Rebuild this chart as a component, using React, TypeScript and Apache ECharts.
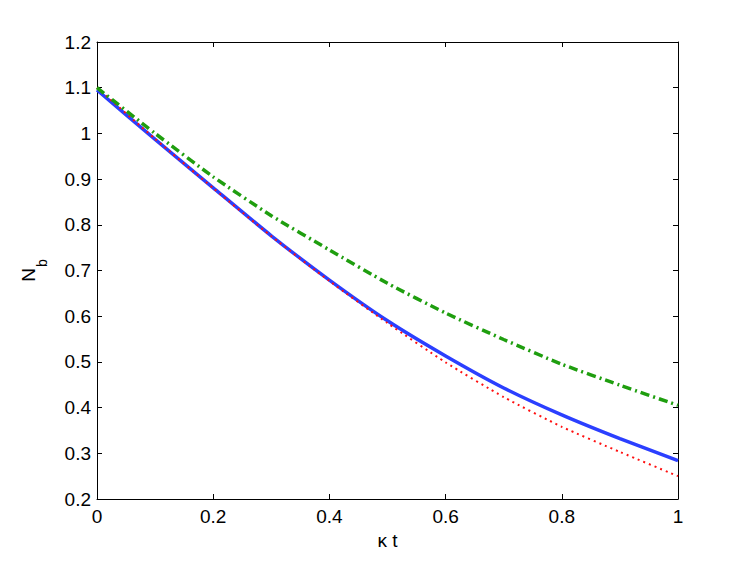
import React, { useEffect, useRef } from "react";
import * as echarts from "echarts";

const xValues = [0, 0.1, 0.2, 0.3, 0.4, 0.5, 0.6, 0.7, 0.8, 0.9, 1.0];
const blueSolid = [1.095, 0.987, 0.881, 0.776, 0.679, 0.590, 0.513, 0.443, 0.384, 0.332, 0.284];
const redDotted = [1.1, 0.988, 0.880, 0.775, 0.677, 0.585, 0.499, 0.423, 0.358, 0.303, 0.25];
const greenDashDot = [1.1, 1.0, 0.905, 0.82, 0.745, 0.672, 0.607, 0.549, 0.495, 0.449, 0.405];
const xLabel = "κ t";
const yLabelMain = "N";
const yLabelSub = "b";

const FONT = "Liberation Sans, Arial, Helvetica, sans-serif";

function pairs(ys: number[]) {
  return xValues.map((x, i) => [x, ys[i]]);
}

export default function App() {
  const ref = useRef<HTMLDivElement>(null);
  useEffect(() => {
    document.body.style.margin = "0";
    if (!ref.current) return;
    const chart = echarts.init(ref.current, undefined, { renderer: "svg" });
    const fmt = (v: number) => String(+v.toFixed(1));
    const axisCommon = {
      axisLine: { show: true, onZero: false, lineStyle: { color: "#000", width: 1 } },
      axisTick: { show: true, inside: true, length: 5, lineStyle: { color: "#000" } },
      splitLine: { show: false },
    };
    chart.setOption({
      animation: false,
      backgroundColor: "#fff",
      grid: { left: 97, top: 42, right: 69, bottom: 62, containLabel: false },
      xAxis: [
        {
          type: "value",
          min: 0,
          max: 1,
          interval: 0.2,
          position: "bottom",
          ...axisCommon,
          axisLabel: { color: "#000", fontSize: 19, fontFamily: FONT, margin: 8, formatter: fmt },
          name: xLabel,
          nameLocation: "middle",
          nameGap: 30,
          nameTextStyle: { color: "#000", fontSize: 19, fontFamily: FONT },
        },
        {
          type: "value",
          min: 0,
          max: 1,
          interval: 0.2,
          position: "top",
          ...axisCommon,
          axisLabel: { show: false },
        },
      ],
      yAxis: [
        {
          type: "value",
          min: 0.2,
          max: 1.2,
          interval: 0.1,
          position: "left",
          ...axisCommon,
          axisLabel: { color: "#000", fontSize: 19, fontFamily: FONT, margin: 6, formatter: fmt },
        },
        {
          type: "value",
          min: 0.2,
          max: 1.2,
          interval: 0.1,
          position: "right",
          ...axisCommon,
          axisLabel: { show: false },
        },
      ],
      graphic: [
        {
          type: "group",
          x: 38,
          y: 268,
          rotation: Math.PI / 2,
          children: [
            {
              type: "text",
              x: 0,
              y: 0,
              style: {
                text: yLabelMain,
                fontSize: 19,
                fontFamily: FONT,
                fill: "#000",
                textAlign: "right",
                textVerticalAlign: "bottom",
              },
            },
            {
              type: "text",
              x: 1,
              y: -3,
              style: {
                text: yLabelSub,
                fontSize: 14,
                fontFamily: FONT,
                fill: "#000",
                textAlign: "left",
                textVerticalAlign: "top",
              },
            },
          ],
        },
      ],
      series: [
        {
          type: "line",
          data: pairs(blueSolid),
          smooth: 0.2,
          symbol: "none",
          lineStyle: { color: "#2b3fff", width: 3.5 },
          z: 2,
        },
        {
          type: "line",
          data: pairs(redDotted),
          smooth: 0.2,
          symbol: "none",
          lineStyle: { color: "#ff1010", width: 2, type: [2, 4] },
          z: 3,
        },
        {
          type: "line",
          data: pairs(greenDashDot),
          smooth: 0.2,
          symbol: "none",
          lineStyle: { color: "#1f9e0f", width: 3.5, type: [9, 4, 2, 4] },
          z: 4,
        },
      ],
    });
    return () => chart.dispose();
  }, []);
  return <div ref={ref} style={{ width: 747, height: 561 }} />;
}
